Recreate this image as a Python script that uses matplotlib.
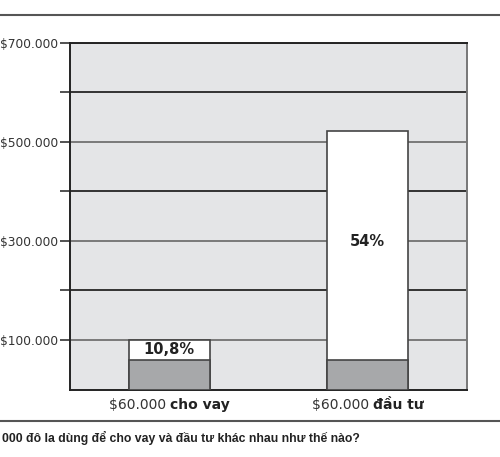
import numpy as np
import matplotlib
matplotlib.use("Agg")
import matplotlib.pyplot as plt
from matplotlib.lines import Line2D

# data
categories = ["cho vay", "đầu tư"]
amount_labels = ["$60.000", "$60.000"]
base_values = [60000, 60000]
total_values = [100000, 523000]
pct_labels = ["10,8%", "54%"]
pct_label_y = [80000, 299000]
tick_values = [100000, 200000, 300000, 400000, 500000, 600000, 700000]
tick_labels = ["$100.000", "", "$300.000", "", "$500.000", "", "$700.000"]
caption = "000 đô la dùng để cho vay và đầu tư khác nhau như thế nào?"

plt.rcParams['font.family'] = ['DejaVu Sans']

fig = plt.figure(figsize=(5.0, 4.57), dpi=100)
ax = fig.add_axes([0.14, 0.1477, 0.794, 0.7583])
ax.set_facecolor('#e4e5e7')

x = np.arange(len(categories))
for i, t in enumerate(tick_values):
    c = '#7a7a7a' if tick_labels[i] else '#333333'
    ax.axhline(t, color=c, lw=1.4, zorder=1)

w = 0.41
ax.bar(x, total_values, width=w, color='white', edgecolor='#444444', lw=1.2, zorder=2)
ax.bar(x, base_values, width=w, color='#a7a8aa', edgecolor='#444444', lw=1.2, zorder=3)

for i in range(len(x)):
    ax.text(x[i], pct_label_y[i], pct_labels[i], ha='center', va='center',
            fontsize=10.5, fontweight='bold', color='#222222', zorder=4)

ax.set_xlim(-0.5, 1.5)
ax.set_ylim(0, 700000)
ax.set_yticks(tick_values)
ax.set_yticklabels(tick_labels, fontsize=8.8, color='#333333')
ax.tick_params(axis='y', length=7, width=1.2, color='#333333', pad=1.5)
ax.set_xticks([])

ax.spines['top'].set_color('#222222')
ax.spines['left'].set_color('#222222')
ax.spines['bottom'].set_color('#222222')
ax.spines['right'].set_color('#777777')
for s in ax.spines.values():
    s.set_linewidth(1.4)

# x labels: regular amount + bold category, centred under each bar
fig.canvas.draw()
r = fig.canvas.get_renderer()
for i in range(len(x)):
    cx = ax.transData.transform((x[i], 0))[0]
    t1 = fig.text(0, 0, amount_labels[i] + " ", fontsize=10, color='#333333')
    t2 = fig.text(0, 0, categories[i], fontsize=10, fontweight='bold', color='#222222')
    w1 = t1.get_window_extent(r).width
    w2 = t2.get_window_extent(r).width
    x0 = cx - (w1 + w2) / 2
    yy = 1 - 405 / 457
    t1.set_position((x0 / fig.bbox.width, yy))
    t2.set_position(((x0 + w1) / fig.bbox.width, yy))
    t1.set_va('center')
    t2.set_va('center')

fig.add_artist(Line2D([0, 1], [1 - 15 / 457, 1 - 15 / 457], color='#555555', lw=1.5))
fig.add_artist(Line2D([0, 1], [1 - 421 / 457, 1 - 421 / 457], color='#555555', lw=1.5))
cap = fig.text(0.003, 1 - 438 / 457, caption, fontsize=10, fontweight='bold',
               family=['Liberation Sans', 'DejaVu Sans'],
               color='#222222', va='center', ha='left')
# shrink caption to the width seen in the reference (~357 px)
cw = cap.get_window_extent(r).width
cap.set_fontsize(10 * 357 / cw)

fig.savefig('out.png', dpi=100)
